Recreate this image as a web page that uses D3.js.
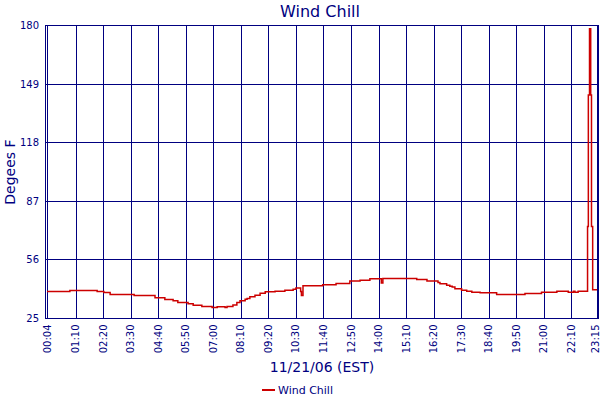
<!DOCTYPE html>
<html>
<head>
<meta charset="utf-8">
<script src="https://cdn.jsdelivr.net/npm/d3@7"></script>
<style>
  html, body { margin: 0; padding: 0; background: #fff; }
  svg { display: block; font-family: Tahoma, Verdana, "DejaVu Sans", sans-serif; }
</style>
</head>
<body>
<svg id="chart" width="600" height="400"></svg>
<script>
// ---- data (minutes after midnight, 11/21/06 EST) ----
const timeMin = [4, 57, 125, 142, 158, 219, 272, 297, 318, 330, 356, 369, 391, 417, 430, 450, 455, 470, 480, 488,
  501, 506, 513, 526, 539, 552, 577, 602, 623, 630, 642, 644, 648, 698, 732, 767, 793, 818, 847, 851,
  937, 963, 991, 996, 1013, 1021, 1027, 1034, 1051, 1064, 1077, 1098, 1140, 1212, 1254, 1293, 1322, 1335, 1339, 1347,
  1371, 1373, 1376, 1379, 1381, 1384, 1395];
const windChill = [39.3, 39.8, 39.3, 38.8, 37.7, 37.2, 36.0, 35.1, 34.4, 33.5, 32.8, 32.0, 31.3, 30.8, 31.2, 30.8, 31.3, 32.2, 33.5, 34.4,
  35.2, 35.6, 36.5, 37.3, 38.4, 39.1, 39.4, 40.0, 40.5, 41.2, 39.3, 37.2, 42.3, 42.8, 43.5, 44.9, 45.3, 46.0, 43.8, 46.2,
  45.6, 44.9, 44.0, 43.4, 42.6, 42.1, 41.6, 40.7, 40.0, 39.4, 38.9, 38.6, 37.7, 38.2, 38.9, 39.4, 38.9, 39.4, 38.9, 39.4,
  73.7, 143.3, 178.3, 143.3, 73.7, 40.2, 40.2];
const xTickLabels = ["00:04","01:10","02:20","03:30","04:40","05:50","07:00","08:10","09:20","10:30","11:40",
  "12:50","14:00","15:10","16:20","17:30","18:40","19:50","21:00","22:10","23:15"];
const yTicks = [25, 56, 87, 118, 149, 180];
const chartTitle = "Wind Chill";
const xTitle = "11/21/06 (EST)";
const yTitle = "Degees F";
const seriesName = "Wind Chill";

// ---- layout ----
const navy = "#000080";
const red = "#cc0000";
const pLeft = 45.5, pRight = 598.5, pTop = 25.5, pBottom = 318.5;

const toMin = s => { const [h, m] = s.split(":").map(Number); return h * 60 + m; };
const x = d3.scaleLinear().domain([4, 70, 1395]).range([47, 75.5, 597]);
const y = d3.scaleLinear().domain([25, 180]).range([pBottom, pTop]);

const svg = d3.select("#chart");

// grid
const grid = svg.append("g").attr("shape-rendering", "crispEdges");
grid.selectAll("line.v").data(xTickLabels).enter().append("line")
  .attr("x1", d => Math.round(x(toMin(d))) + 0.5).attr("x2", d => Math.round(x(toMin(d))) + 0.5)
  .attr("y1", pTop).attr("y2", pBottom)
  .attr("stroke", navy).attr("stroke-width", 1);
grid.selectAll("line.h").data(yTicks).enter().append("line")
  .attr("x1", pLeft).attr("x2", pRight)
  .attr("y1", d => Math.round(y(d) - 0.5) + 0.5).attr("y2", d => Math.round(y(d) - 0.5) + 0.5)
  .attr("stroke", navy).attr("stroke-width", 1);
grid.append("rect").attr("x", pLeft).attr("y", pTop).attr("width", pRight - pLeft).attr("height", pBottom - pTop)
  .attr("fill", "none").attr("stroke", navy).attr("stroke-width", 1);

// y tick labels
svg.append("g").selectAll("text").data(yTicks).enter().append("text")
  .attr("x", 39).attr("y", d => y(d)).attr("dy", "0.35em")
  .attr("text-anchor", "end").attr("font-size", 10).attr("fill", navy)
  .text(d => d);

// x tick labels (rotated)
svg.append("g").selectAll("text").data(xTickLabels).enter().append("text")
  .attr("transform", d => `translate(${Math.min(x(toMin(d)), 595)},${pBottom + 6}) rotate(-90)`)
  .attr("dy", "0.35em").attr("text-anchor", "end").attr("font-size", 10).attr("fill", navy)
  .text(d => d);

// series line
const pts = timeMin.map((t, i) => [t, windChill[i]]);
const line = d3.line().x(d => x(d[0])).y(d => y(d[1])).curve(d3.curveStepAfter);
svg.append("path").datum(pts).attr("d", line)
  .attr("fill", "none").attr("stroke", red).attr("stroke-width", 1.5);

// titles
svg.append("text").attr("x", 320).attr("y", 17).attr("text-anchor", "middle")
  .attr("font-size", 16).attr("fill", navy).text(chartTitle);
svg.append("text").attr("x", (pLeft + pRight) / 2).attr("y", 372).attr("text-anchor", "middle")
  .attr("font-size", 14).attr("fill", navy).text(xTitle);
svg.append("text").attr("transform", `translate(15,${(pTop + pBottom) / 2}) rotate(-90)`)
  .attr("text-anchor", "middle").attr("font-size", 14).attr("fill", navy).text(yTitle);

// legend
svg.append("line").attr("x1", 262).attr("x2", 275).attr("y1", 390).attr("y2", 390)
  .attr("stroke", red).attr("stroke-width", 2);
svg.append("text").attr("x", 278).attr("y", 394).attr("font-size", 11).attr("fill", navy).text(seriesName);
</script>
</body>
</html>
